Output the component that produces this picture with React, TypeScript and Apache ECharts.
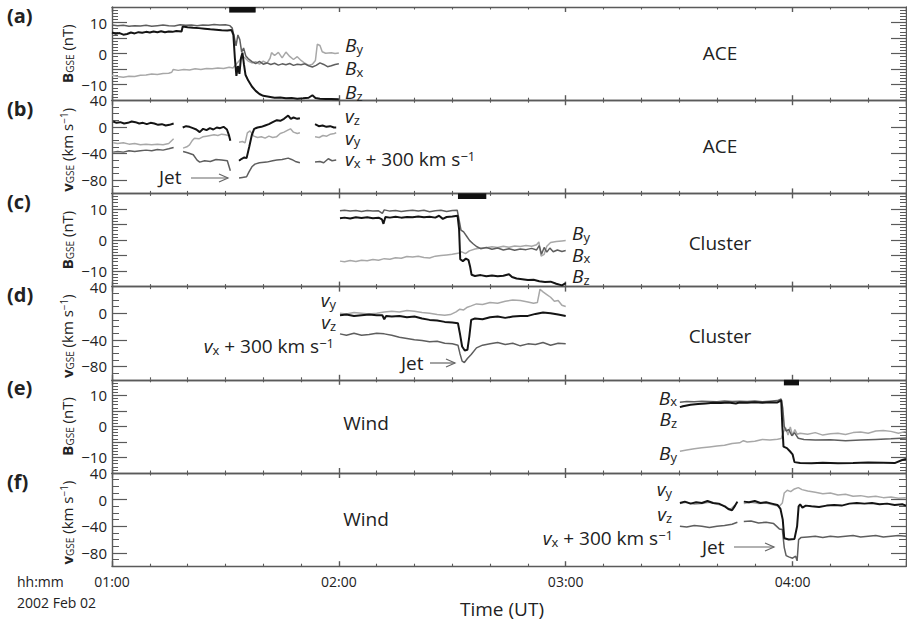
import React, { useEffect, useRef } from "react";
import * as echarts from "echarts";

type Pt = [number, number | null];

// Time axis: minutes after 01:00 UT, 2002 Feb 02
const T_MIN = 0;
const T_MAX = 210;
const TIME_STEP = 60;

// Tick labels
const B_LABELS = [-10, 0, 10];
const B_MAJOR = [-10, -5, 0, 5, 10];
const V_LABELS = [-80, -40, 0, 40];
const V_MAJOR = [-80, -40, 0];

// Interval markers (minutes)
const ACE_WINDOW = [31, 38];
const CLUSTER_WINDOW = [91.5, 99];
const WIND_WINDOW = [177.7, 181.7];

// ---------- ACE magnetic field (nT) ----------
const ACE_BX: Pt[] = [[0,9.2],[1.5,9.0],[3,9.1],[4.5,8.8],[6,9.0],[7.5,8.9],[9,9.1],[10.5,8.8],[12,9.0],[13.5,9.2],[15,9.0],[16.5,8.9],[18,9.3],[19.5,9.1],[21,9.2],[22.5,9.0],[24,9.2],[25.5,9.1],[27,9.4],[28.5,9.2],[30,9.3],[31.2,9.0],[31.8,8.2],[32.3,5.5],[32.8,2.5],[33.3,6.0],[33.8,4.5],[34.3,0.5],[34.8,1.8],[35.4,-0.8],[36,-1.6],[37,-2.6],[38,-3.2],[39,-2.5],[40,-3.4],[41,-3.0],[42,-3.5],[43,-3.1],[44,-3.7],[45,-3.3],[46,-3.6],[47,-3.2],[48,-3.8],[49,-3.4],[50,-3.6],[51,-3.3],[52,-3.9],[53,-4.3],[54,-3.8],[55,-3.0],[56,-3.5],[57,-4.2],[58,-3.9],[59,-3.5],[60,-3.3]];
const ACE_BY: Pt[] = [[0,-7.0],[1.5,-7.4],[3,-7.6],[4.5,-7.3],[6,-7.4],[7.5,-7.0],[9,-6.9],[10.5,-6.6],[12,-6.7],[13.5,-6.4],[15,-6.3],[15.8,-6.0],[16.2,-5.1],[17.5,-5.4],[19,-5.1],[20.5,-5.3],[22,-4.9],[23.5,-5.1],[25,-4.8],[26.5,-4.9],[28,-4.6],[29.5,-4.8],[31,-4.4],[32,-4.6],[33,-3.2],[34,-1.8],[35,-1.2],[36,-2.4],[37,-3.0],[38,-2.6],[39,-3.4],[40,-2.4],[41,-3.1],[41.8,-1.5],[42.2,0.3],[43,-0.6],[44,0.4],[45,-1.4],[46,0.5],[47,-0.9],[48,-1.9],[49,-1.0],[50,-2.2],[51,-3.1],[52,-3.8],[53,-3.4],[53.8,-2.2],[54.3,3.0],[55,2.6],[55.6,0.6],[56.5,0.1],[58,0.3],[59,0.0],[60,0.2]];
const ACE_BZ: Pt[] = [[0,6.8],[1,6.4],[2,6.6],[3,6.1],[4,6.3],[5,6.8],[6,6.5],[7,6.9],[8,6.7],[9,7.0],[10,6.8],[11,7.1],[12,6.9],[13,7.2],[14,6.9],[15,7.1],[16,7.0],[17,7.3],[18.4,7.1],[18.7,8.7],[20,8.5],[21.5,8.3],[23,8.2],[24.5,8.0],[26,7.8],[27.5,7.7],[29,7.5],[30.5,7.4],[31.6,7.6],[32.1,6.0],[32.5,-1.5],[32.9,-7.2],[33.3,-4.0],[33.7,-6.5],[34.1,-1.5],[34.5,0.3],[34.9,-3.5],[35.3,-6.8],[36,-8.6],[37,-10.6],[38,-12.0],[39,-13.0],[40,-13.6],[41.5,-13.9],[43,-14.2],[44.5,-14.1],[46,-14.4],[47.5,-14.3],[49,-14.5],[50.5,-14.4],[52,-14.2],[53,-13.4],[53.8,-14.3],[55,-14.5],[56.5,-14.6],[58,-14.6],[60,-14.7]];

// ---------- ACE velocity (km/s), data gaps between segments ----------
const ACE_VZ_SEGS: Pt[][] = [
  [[0.3,8],[1.2,6],[2.2,7],[3.2,5],[4.2,6],[5.2,8],[6.2,7],[7.2,5],[8.2,6],[9.2,4],[10.2,6],[11.2,5],[12.2,3],[13.2,4],[14.2,2],[15.2,3],[16.3,5]],
  [[18.7,-1],[19.6,1],[20.5,0],[21.4,-2],[22.3,-4],[23.2,-8],[24.1,-3],[25,-5],[25.9,-2],[26.8,-4],[27.7,-1],[28.6,-2],[29.5,0],[30.4,-4],[30.9,-12],[31.3,-21]],
  [[33.6,-51],[34.3,-48],[35,-46],[35.6,-47],[36.3,-30],[37,-12],[37.6,-3],[38.5,-1],[39.5,0],[40.5,2],[41.5,4],[42.5,7],[43.6,10],[44.5,9],[45.5,12],[46.6,17],[47.3,12],[48,14],[49,12],[49.7,13]],
  [[53.7,4],[54.7,1],[55.7,2],[56.7,0],[57.7,1],[58.7,-1],[59.3,-1]],
];
const ACE_VY_SEGS: Pt[][] = [
  [[0.3,-24],[1.5,-25],[3,-24],[4.5,-26],[6,-25],[7.5,-27],[9,-26],[10.5,-27],[12,-26],[13.5,-27],[15,-25],[16.3,-18]],
  [[18.8,-32],[19.8,-30],[20.5,-27],[21.3,-20],[21.8,-17],[23,-18],[24,-15],[25,-14],[26,-13],[27,-12],[28,-13],[29,-11],[30,-12],[31.2,-14]],
  [[33.6,-23],[34.5,-22],[35.2,-24],[35.8,-9],[36.5,-6],[37.5,-14],[38.5,-16],[39.5,-15],[40.5,-17],[41.5,-14],[42.5,-16],[43.5,-15],[44.5,-10],[45.5,-8],[46.5,-5],[47.2,-3],[48,-8],[49,-10],[49.7,-9]],
  [[53.7,-15],[54.8,-16],[55.8,-13],[56.8,-14],[57.8,-11],[58.8,-10],[59.3,-9]],
];
const ACE_VX_SEGS: Pt[][] = [
  [[0.3,-38],[1.5,-37],[3,-38],[4.5,-36],[6,-37],[7.5,-36],[9,-35],[10.5,-36],[12,-34],[13.5,-35],[15,-33],[16.3,-31]],
  [[18.8,-37],[20,-39],[21.5,-42],[22.5,-50],[23.2,-53],[24.5,-51],[26,-52],[27.5,-49],[29,-50],[30.5,-51],[31.3,-66]],
  [[33.6,-77],[34.5,-76],[35.6,-75],[36.2,-68],[37,-60],[37.8,-56],[39,-54],[40.9,-53],[42.5,-51],[43.6,-50],[45,-49],[46.6,-47],[47.5,-49],[48.5,-52],[49.7,-54]],
  [[53.7,-53],[55,-52],[56,-54],[57.2,-48],[58.2,-51],[59.3,-50]],
];

// ---------- Cluster magnetic field (nT) ----------
const CL_BX: Pt[] = [[60.3,9.4],[61.5,9.6],[63,9.3],[64.5,9.5],[66,9.2],[67.5,9.5],[69,9.3],[70.5,9.4],[71.5,8.6],[72,9.7],[73.5,9.3],[75,9.5],[76.5,9.2],[78,9.4],[79.5,9.6],[81,9.3],[82.5,9.6],[84,9.1],[85.5,9.4],[87,9.6],[88.5,9.2],[90,9.5],[91.3,9.6],[91.8,6.5],[92.3,3.2],[93,2.6],[93.8,1.2],[94.6,-0.2],[95.5,-1.2],[96.4,-2.1],[97.5,-2.8],[99,-2.4],[100.5,-3.0],[102,-2.6],[103.5,-3.2],[105,-2.8],[106.5,-3.3],[108,-2.9],[109.5,-3.1],[111,-2.7],[112.3,-3.2],[113,-1.8],[113.6,-4.6],[114.3,-2.4],[115,-3.9],[115.8,-2.6],[116.7,-3.8],[117.8,-3.2],[119,-3.7],[120,-3.4]];
const CL_BY: Pt[] = [[60.3,-6.8],[61.5,-7.0],[63,-6.6],[64.5,-6.9],[66,-6.5],[67.5,-6.7],[69,-6.3],[70.5,-6.5],[72,-6.0],[73.5,-6.2],[75,-5.7],[76.5,-5.9],[78,-5.3],[79.5,-5.5],[81,-5.2],[82.5,-5.6],[84,-5.8],[85.5,-5.2],[87,-5.0],[88.5,-4.8],[90,-4.6],[91.5,-4.3],[92.5,-3.8],[93.5,-4.4],[94.5,-3.5],[96,-2.9],[97.5,-2.6],[99,-2.5],[100.5,-2.2],[102,-2.4],[103.5,-2.0],[105,-2.3],[106.5,-1.9],[108,-2.1],[109.5,-1.8],[111,-2.0],[112.3,-1.5],[112.9,-0.6],[113.5,-5.2],[114.3,-4.6],[115,-2.0],[116,-0.8],[117.5,-0.5],[119,-0.3],[120,-0.2]];
const CL_BZ: Pt[] = [[60.3,7.0],[61.5,7.2],[63,6.9],[64.5,7.3],[66,7.1],[67.5,7.3],[69,7.0],[70.5,7.2],[71.4,6.6],[71.8,5.2],[72.3,7.4],[73.5,7.2],[75,7.5],[76.5,7.2],[78,7.4],[79.5,7.3],[81,7.6],[82.5,7.3],[84,7.5],[85.5,7.2],[86.5,7.8],[87.5,6.8],[88.5,7.4],[90,7.6],[91.4,7.8],[91.8,3.5],[92.1,-6.2],[92.8,-6.8],[93.6,-6.0],[94.3,-6.5],[94.7,-8.5],[95.1,-11.2],[96,-11.6],[97.5,-11.3],[99,-11.7],[100.5,-11.4],[102,-11.7],[103.5,-11.5],[105,-11.0],[105.8,-11.9],[107,-12.4],[108.5,-12.6],[110,-12.9],[111.5,-12.8],[113,-13.3],[114.5,-13.5],[116,-13.4],[117.5,-14.1],[119,-14.6],[120,-13.9]];

// ---------- Cluster velocity (km/s) ----------
const CL_VY: Pt[] = [[60.3,0],[62,-1],[64,1],[66,0],[68,-1],[70,0],[72,2],[74,3],[76,2],[78,4],[80,3],[82,1],[84,0],[86,-2],[88,-3],[89.5,-2],[91,2],[92,6],[93,5],[94,9],[95,11],[96.4,14],[98,13],[100,16],[102,15],[104,18],[106,20],[108,19],[110,17],[111.5,15],[112.5,16],[113.2,36],[114,32],[115,28],[116,24],[117,18],[118,19],[119,12],[120,10]];
const CL_VZ: Pt[] = [[60.3,-3],[62,-2],[64,-4],[66,-3],[68,-2],[70,-3],[71.5,-3],[72,-9],[72.5,-4],[74,-5],[76,-4],[78,-6],[80,-5],[82,-8],[84,-10],[86,-11],[88,-13],[90,-14],[91.5,-15],[92,-30],[92.6,-50],[93.3,-56],[94,-55],[94.5,-35],[95,-10],[96,-8],[98,-9],[100,-6],[102,-5],[104,-7],[106,-5],[108,-4],[110,-4],[112,-1],[114,1],[116,0],[118,-2],[120,-4]];
const CL_VX: Pt[] = [[60.3,-31],[62,-33],[64,-30],[66,-33],[68,-32],[70,-30],[72,-31],[74,-33],[76,-36],[78,-38],[80,-40],[82,-41],[84,-43],[86,-42],[88,-45],[90,-46],[91.5,-48],[92,-60],[92.6,-72],[93.2,-74],[94,-68],[95,-62],[96.4,-52],[98,-48],[100,-46],[102,-44],[104,-47],[106,-45],[108,-49],[110,-46],[112,-47],[114,-44],[116,-48],[118,-45],[120,-46]];

// ---------- Wind magnetic field (nT) ----------
const WI_BX: Pt[] = [[150.2,7.8],[152,8.0],[154,7.9],[156,8.1],[158,8.0],[160,7.9],[162,8.2],[164,8.0],[166,8.1],[168,8.0],[170,8.2],[172,7.9],[174,8.1],[176,8.3],[177,8.8],[177.4,6.0],[177.8,0.0],[178.3,-1.5],[179,-1.0],[179.8,-3.0],[180.5,-2.0],[181.5,-3.8],[183,-4.2],[186,-4.4],[190,-4.3],[194,-4.6],[198,-4.4],[202,-4.2],[206,-4.0],[210,-3.7]];
const WI_BY: Pt[] = [[150.2,-8.0],[152,-7.6],[154,-7.2],[156,-6.9],[158,-6.6],[160,-6.3],[162,-6.1],[164,-5.5],[166,-5.3],[167,-4.6],[168,-5.0],[170,-4.8],[172,-4.2],[174,-4.4],[176,-4.1],[177,-3.9],[177.6,-1.8],[178.2,-0.5],[178.8,-2.8],[179.4,-0.2],[180,-3.0],[180.6,-1.0],[181.2,-2.5],[182,-2.2],[184,-2.5],[186,-2.0],[188,-2.8],[190,-2.4],[192,-2.2],[194,-2.6],[196,-2.0],[198,-1.8],[200,-2.2],[202,-1.5],[204,-1.3],[206,-1.6],[208,-2.2],[210,-1.6]];
const WI_BZ: Pt[] = [[150.2,6.2],[151,6.5],[153,7.0],[155,7.2],[157,7.4],[159,7.6],[161,7.5],[163,7.7],[165,7.4],[166,7.7],[168,7.6],[170,7.8],[172,7.6],[174,7.8],[176,7.7],[177,8.4],[177.3,0.0],[177.6,-6.5],[178.5,-7.0],[179.3,-8.0],[180,-9.0],[180.5,-11.5],[182,-11.8],[185,-11.9],[188,-11.7],[192,-11.9],[196,-11.8],[200,-11.6],[204,-11.7],[207,-11.8],[209,-10.8],[210,-10.5]];

// ---------- Wind velocity (km/s) ----------
const WI_VZ_SEGS: Pt[][] = [
  [[150.2,-5],[151.5,-3],[153,-6],[154.5,-4],[156,-5],[157.5,-2],[159,-5],[160.5,-6],[162,-10],[163,-14],[164,-16],[164.8,-9],[165.4,-3]],
  [[167.1,-3],[168.5,-4],[170,-2],[171.5,-5],[173,-4],[174.5,-6],[176,-8],[176.8,-14],[177.4,-30],[177.8,-58],[179,-60],[180.5,-59],[181.2,-40],[181.6,-10],[182,-7],[182.6,-12],[183.5,-9],[185,-10],[187,-11],[189,-9],[191,-8],[193,-9],[195,-6],[197,-5],[199,-6],[201,-5],[203,-7],[205,-6],[207,-8],[209,-7],[210,-9]],
];
const WI_VY_SEGS: Pt[][] = [
  [[150.2,-6],[152,-4],[154,-7],[156,-6],[158,-4],[160,-7],[162,-9],[163.5,-15],[164.8,-8],[165.4,-4]],
  [[167.1,-6],[169,-4],[171,-6],[173,-5],[175,-8],[176.5,-10],[177.3,-5],[177.8,10],[178.6,14],[179.5,12],[180.5,16],[181.5,18],[182.5,15],[184,13],[186,11],[188,9],[190,10],[192,7],[194,8],[196,5],[198,6],[200,4],[202,5],[204,3],[206,4],[208,2],[210,3]],
];
const WI_VX_SEGS: Pt[][] = [
  [[150.2,-40],[152,-41],[154,-39],[156,-40],[158,-42],[160,-40],[162,-39],[164,-37],[165.4,-34]],
  [[167.1,-33],[169,-32],[171,-35],[173,-34],[175,-36],[176.5,-44],[177.3,-45],[177.8,-72],[178.3,-84],[179,-86],[180,-88],[180.8,-85],[181.2,-92],[181.6,-60],[182.2,-57],[184,-56],[186,-55],[188,-57],[190,-55],[192,-56],[194,-55],[196,-54],[198,-56],[200,-55],[202,-54],[204,-56],[206,-55],[208,-54],[210,-55]],
];

// join segments with a null point so the line breaks across data gaps
const joinSegments = (parts: Pt[][]): Pt[] =>
  parts.flatMap((p, k) => (k === 0 ? p : [[p[0][0] - 0.3, null] as Pt, ...p]));

// ---------- styling ----------
const FONT = '"Open Sans", "Noto Sans", sans-serif';
const INK = "#222";
const AXIS = "#5a5a5a";
const COLORS: Record<string, string> = { z: "#141414", x: "#5e5e5e", y: "#a8a8a8" };
const WIDTHS: Record<string, number> = { z: 2, x: 1.5, y: 1.5 };

const LEFT = 112;
const RIGHT = 1;
const TOP = 7;
const PH = 93.2;

type Panel = { kind: "B" | "V"; lines: [Pt[], string][]; window?: number[] };

const PANELS: Panel[] = [
  { kind: "B", lines: [[ACE_BY, "y"], [ACE_BX, "x"], [ACE_BZ, "z"]], window: ACE_WINDOW },
  { kind: "V", lines: [[joinSegments(ACE_VY_SEGS), "y"], [joinSegments(ACE_VX_SEGS), "x"], [joinSegments(ACE_VZ_SEGS), "z"]] },
  { kind: "B", lines: [[CL_BY, "y"], [CL_BX, "x"], [CL_BZ, "z"]], window: CLUSTER_WINDOW },
  { kind: "V", lines: [[CL_VY, "y"], [CL_VX, "x"], [CL_VZ, "z"]] },
  { kind: "B", lines: [[WI_BY, "y"], [WI_BX, "x"], [WI_BZ, "z"]], window: WIND_WINDOW },
  { kind: "V", lines: [[joinSegments(WI_VY_SEGS), "y"], [joinSegments(WI_VX_SEGS), "x"], [joinSegments(WI_VZ_SEGS), "z"]] },
];

const minus = (v: number) => (v < 0 ? "\u2212" + Math.abs(v) : String(v));
const hhmm = (v: number) => (v % 60 === 0 ? "0" + (1 + v / 60) + ":00" : "");

// rich-text styles: normal, italic, bold, subscript, superscript
const rich = (size: number) => {
  const small = Math.round(size * 0.68);
  return {
    n: { fontFamily: FONT, fontSize: size, lineHeight: size + 1, fill: INK },
    i: { fontFamily: FONT, fontSize: size, fontStyle: "italic", lineHeight: size + 1, fill: INK },
    b: { fontFamily: FONT, fontSize: size, fontWeight: "bold", lineHeight: size + 1, fill: INK },
    s: { fontFamily: FONT, fontSize: small, lineHeight: small - 5, verticalAlign: "bottom", fill: INK },
    p: { fontFamily: FONT, fontSize: small, lineHeight: small - 3, verticalAlign: "top", fill: INK },
  };
};

const text = (x: number, y: number, t: string, o: any = {}) => ({
  type: "text",
  x,
  y,
  rotation: o.rot || 0,
  silent: true,
  z: 100,
  style: {
    text: t,
    align: o.align || "left",
    verticalAlign: "middle",
    fill: INK,
    fontFamily: FONT,
    fontSize: o.size || 19,
    fontWeight: o.weight || "normal",
    rich: o.rich,
  },
});

const arrow = (x1: number, x2: number, y: number) => [
  { type: "line", silent: true, z: 100, shape: { x1, y1: y, x2, y2: y }, style: { stroke: "#666", lineWidth: 1.2 } },
  { type: "polyline", silent: true, z: 100, shape: { points: [[x2 - 9, y - 4], [x2, y], [x2 - 9, y + 4]] }, style: { stroke: "#666", lineWidth: 1.2, fill: null } },
];

function buildOption() {
  const grid: any[] = [];
  const xAxis: any[] = [];
  const yAxis: any[] = [];
  const series: any[] = [];

  PANELS.forEach((p, i) => {
    grid.push({ left: LEFT, right: RIGHT, top: TOP + i * PH, height: PH, outerBoundsMode: "none", containLabel: false });

    (["bottom", "top"] as const).forEach((pos) => {
      xAxis.push({
        type: "value",
        gridIndex: i,
        position: pos,
        min: T_MIN,
        max: T_MAX,
        interval: TIME_STEP,
        axisLine: { show: true, onZero: false, lineStyle: { color: AXIS, width: 1.4 } },
        axisTick: { show: true, inside: true, length: 5, lineStyle: { color: AXIS, width: 1.4 } },
        minorTick: { show: true, splitNumber: 6, length: 2.5, lineStyle: { color: AXIS, width: 1.1 } },
        splitLine: { show: false },
        axisLabel:
          i === PANELS.length - 1 && pos === "bottom"
            ? { show: true, formatter: hhmm, margin: 8, color: INK, fontSize: 14, fontFamily: FONT }
            : { show: false },
      });
    });

    const isB = p.kind === "B";
    const range = isB ? { min: -15, max: 15 } : { min: -100, max: 40 };
    const fine = isB ? 1 : 10;
    const labels = isB ? B_LABELS : V_LABELS;
    const major = isB ? B_MAJOR : V_MAJOR;

    (["left", "right"] as const).forEach((pos) => {
      yAxis.push({
        type: "value",
        gridIndex: i,
        position: pos,
        ...range,
        interval: fine,
        axisLine: { show: true, onZero: false, lineStyle: { color: AXIS, width: 1.4 } },
        axisTick: { show: true, inside: true, length: isB ? 6 : 7, lineStyle: { color: AXIS, width: 1 } },
        splitLine: { show: false },
        axisLabel:
          pos === "left"
            ? {
                show: true,
                margin: 5,
                color: INK,
                fontSize: 15,
                lineHeight: 15,
                fontFamily: FONT,
                formatter: (v: number) => (labels.includes(v) ? minus(v) : ""),
              }
            : { show: false },
      });
    });
    (["left", "right"] as const).forEach((pos) => {
      yAxis.push({
        type: "value",
        gridIndex: i,
        position: pos,
        ...range,
        interval: fine,
        axisLine: { show: false, onZero: false },
        axisTick: { show: true, inside: true, length: 15, customValues: major, lineStyle: { color: AXIS, width: 1.2 } },
        axisLabel: { show: false },
        splitLine: { show: false },
      });
    });

    p.lines.forEach(([data, comp], k) => {
      const s: any = {
        type: "line",
        xAxisIndex: 2 * i,
        yAxisIndex: 4 * i,
        data,
        showSymbol: false,
        symbol: "none",
        connectNulls: false,
        silent: true,
        z: 2 + k,
        lineStyle: { color: COLORS[comp], width: WIDTHS[comp] },
      };
      if (k === 0 && p.window) {
        s.markArea = {
          silent: true,
          itemStyle: { color: "#111" },
          data: [[{ xAxis: p.window[0], yAxis: 13.2 }, { xAxis: p.window[1], yAxis: 15 }]],
        };
      }
      series.push(s);
    });
  });

  const R = rich(19);
  const RT = rich(15);
  const graphic: any[] = [];
  const letters = ["(a)", "(b)", "(c)", "(d)", "(e)", "(f)"];
  letters.forEach((l, i) => {
    const top = TOP + i * PH;
    graphic.push(text(7, top + 8, l, { weight: "bold", size: 20 }));
    const cy = top + PH / 2 + (PANELS[i].kind === "V" ? 3 : 0);
    const title = PANELS[i].kind === "B" ? "{b|B}{s|GSE}{n| (nT)}" : "{b|v}{s|GSE}{n| (km s}{p|\u22121}{n|)}";
    graphic.push(text(67, cy, title, { rot: Math.PI / 2, align: "center", size: 15, rich: RT }));
  });

  // component labels beside the curves
  const VX_LABEL = "{i|v}{s|x}{n| + 300 km s}{p|\u22121}";
  graphic.push(
    text(345, 45, "{i|B}{s|y}", { rich: R }),
    text(345, 68, "{i|B}{s|x}", { rich: R }),
    text(345, 92, "{i|B}{s|z}", { rich: R }),
    text(345, 116, "{i|v}{s|z}", { rich: R }),
    text(345, 137.5, "{i|v}{s|y}", { rich: R }),
    text(345, 159, VX_LABEL, { rich: R }),
    text(572, 233, "{i|B}{s|y}", { rich: R }),
    text(572, 254.5, "{i|B}{s|x}", { rich: R }),
    text(572, 276, "{i|B}{s|z}", { rich: R }),
    text(336, 300, "{i|v}{s|y}", { rich: R, align: "right" }),
    text(336, 322, "{i|v}{s|z}", { rich: R, align: "right" }),
    text(334, 346, VX_LABEL, { rich: R, align: "right" }),
    text(677, 397.5, "{i|B}{s|x}", { rich: R, align: "right" }),
    text(677, 419, "{i|B}{s|z}", { rich: R, align: "right" }),
    text(677, 453, "{i|B}{s|y}", { rich: R, align: "right" }),
    text(672, 489, "{i|v}{s|y}", { rich: R, align: "right" }),
    text(672, 514, "{i|v}{s|z}", { rich: R, align: "right" }),
    text(673, 538, VX_LABEL, { rich: R, align: "right" })
  );

  // spacecraft names
  graphic.push(
    text(720, 53, "ACE", { align: "center" }),
    text(720, 146, "ACE", { align: "center" }),
    text(720, 243, "Cluster", { align: "center" }),
    text(720, 336, "Cluster", { align: "center" }),
    text(366, 423, "Wind", { align: "center" }),
    text(366, 519, "Wind", { align: "center" })
  );

  // jet markers
  graphic.push(text(159, 177, "Jet"), ...arrow(191, 228, 178));
  graphic.push(text(401, 363, "Jet"), ...arrow(430, 455, 363));
  graphic.push(text(702, 547, "Jet"), ...arrow(734, 774, 547));

  // footer
  graphic.push(
    text(17, 581, "hh:mm", { size: 14 }),
    text(17, 602, "2002 Feb 02", { size: 14 }),
    text(502, 609, "Time (UT)", { align: "center", size: 19 })
  );

  return {
    animation: false,
    backgroundColor: "#fff",
    grid,
    xAxis,
    yAxis,
    series,
    graphic,
  };
}

export default function App() {
  const ref = useRef<HTMLDivElement>(null);
  useEffect(() => {
    if (!ref.current) return;
    const chart = echarts.init(ref.current, null, { renderer: "svg" });
    chart.setOption(buildOption() as any);
    return () => chart.dispose();
  }, []);
  return (
    <div
      ref={ref}
      style={{ position: "absolute", left: 0, top: 0, width: 907, height: 622, background: "#fff" }}
    />
  );
}
